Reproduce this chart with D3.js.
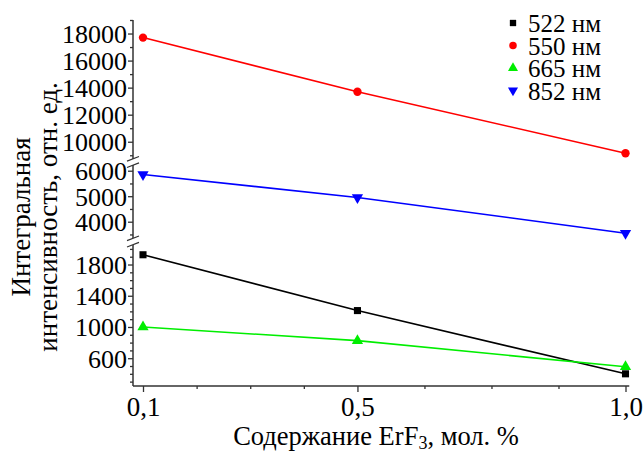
<!DOCTYPE html>
<html><head><meta charset="utf-8">
<script src="https://cdn.jsdelivr.net/npm/d3@7"></script>
<style>body{margin:0;background:#fff} svg text{font-family:"Liberation Serif","Times New Roman",Tinos,"DejaVu Serif",serif !important;fill:#000}</style>
</head><body><svg id="c" width="643" height="452"></svg>
<script>
// ---- data ----
const concentrations = [0.1, 0.5, 1.0];
const xTickLabels = ["0,1", "0,5", "1,0"];
const xMinorTicks = [0.2, 0.3, 0.4, 0.625, 0.75, 0.875];
const seriesNames = ["522 нм", "550 нм", "665 нм", "852 нм"];
const values522 = [1925, 1210, 400];
const values550 = [17700, 13700, 9150];
const values665 = [1000, 825, 490];
const values852 = [5850, 4950, 3550];
const topTicks = [10000, 12000, 14000, 16000, 18000];
const midTicks = [4000, 5000, 6000];
const lowTicks = [600, 1000, 1400, 1800];

// ---- layout ----
const svg = d3.select("#c");
const FONT = "'Liberation Serif', 'Times New Roman', Tinos, 'DejaVu Serif', serif";
const axisX = 133, axisY = 386;
const x = d3.scaleLinear().domain([0.1, 1.0]).range([143, 625.5]);

const segTop = {y: d3.scaleLinear().domain([8724, 19000]).range([159, 20]), ticks: topTicks, minor: d3.range(9000, 19001, 1000)};
const segMid = {y: d3.scaleLinear().domain([3361, 6224]).range([238, 165]), ticks: midTicks, minor: d3.range(3500, 6001, 500)};
const segLow = {y: d3.scaleLinear().domain([244, 2050]).range([386, 245]), ticks: lowTicks, minor: d3.range(300, 2001, 100)};
const segments = [segTop, segMid, segLow];

const axisColor = "#333";

// y axis segments
segments.forEach(s => {
  const [y0, y1] = s.y.range();
  svg.append("line").attr("x1", axisX).attr("x2", axisX).attr("y1", y0).attr("y2", y1)
    .attr("stroke", axisColor).attr("stroke-width", 1.5);
  const g = svg.append("g").attr("transform", `translate(${axisX},0)`);
  const minorAxis = d3.axisLeft(s.y).tickValues(s.minor.filter(v => !s.ticks.includes(v))).tickSize(3).tickFormat("");
  g.call(minorAxis);
  const majorAxis = d3.axisLeft(s.y).tickValues(s.ticks).tickSize(5).tickPadding(1).tickFormat(d3.format("d"));
  const g2 = svg.append("g").attr("transform", `translate(${axisX},0)`).call(majorAxis);
  [g, g2].forEach(gg => {
    gg.attr("font-family", FONT);
    gg.select(".domain").remove();
    gg.selectAll(".tick line").attr("stroke", axisColor).attr("stroke-width", 1.3);
  });
  g2.selectAll(".tick text").attr("font-size", 26).attr("fill", "#000").attr("dy", "0.34em");
});

// break marks
[162, 241.5].forEach(cy => {
  [-3.2, 3.2].forEach(off => {
    svg.append("line").attr("x1", axisX - 6).attr("x2", axisX + 6)
      .attr("y1", cy + off + 2.3).attr("y2", cy + off - 2.3)
      .attr("stroke", axisColor).attr("stroke-width", 1.2);
  });
});

// x axis
svg.append("line").attr("x1", axisX).attr("x2", x(1.007)).attr("y1", axisY).attr("y2", axisY)
  .attr("stroke", axisColor).attr("stroke-width", 1.5);
const gxMinor = svg.append("g").attr("transform", `translate(0,${axisY})`)
  .call(d3.axisBottom(x).tickValues(xMinorTicks).tickSize(3).tickFormat(""));
const gx = svg.append("g").attr("transform", `translate(0,${axisY})`)
  .call(d3.axisBottom(x).tickValues(concentrations).tickSize(6).tickPadding(5).tickFormat((d, i) => xTickLabels[i]));
[gxMinor, gx].forEach(gg => {
  gg.attr("font-family", FONT);
  gg.select(".domain").remove();
  gg.selectAll(".tick line").attr("stroke", axisColor).attr("stroke-width", 1.3);
});
gx.selectAll(".tick text").attr("font-size", 27).attr("fill", "#000").attr("dy", "0.72em");

// axis titles
const xt = svg.append("text").attr("x", 376).attr("y", 445).attr("text-anchor", "middle")
  .attr("font-family", FONT).attr("font-size", 26.5);
xt.append("tspan").text("Содержание ErF");
xt.append("tspan").attr("font-size", 18).attr("dy", 4).text("3");
xt.append("tspan").attr("dy", -4).text(", мол. %");

svg.append("text").attr("transform", "translate(30,217) rotate(-90)").attr("text-anchor", "middle")
  .attr("font-family", FONT).attr("font-size", 27).text("Интегральная");
svg.append("text").attr("transform", "translate(57,217) rotate(-90)").attr("text-anchor", "middle")
  .attr("font-family", FONT).attr("font-size", 27).text("интенсивность, отн. ед.");

// series
const series = [
  {name: seriesNames[0], values: values522, seg: segLow, color: "#000000", sym: d3.symbolSquare, size: 50, rot: 0},
  {name: seriesNames[1], values: values550, seg: segTop, color: "#ff0000", sym: d3.symbolCircle, size: 55, rot: 0},
  {name: seriesNames[2], values: values665, seg: segLow, color: "#00ee00", sym: d3.symbolTriangle, size: 55, rot: 0},
  {name: seriesNames[3], values: values852, seg: segMid, color: "#0000ff", sym: d3.symbolTriangle, size: 55, rot: 180}
];

series.forEach(s => {
  const line = d3.line().x((d, i) => x(concentrations[i])).y(d => s.seg.y(d));
  svg.append("path").datum(s.values).attr("d", line).attr("fill", "none")
    .attr("stroke", s.color).attr("stroke-width", 1.6);
  svg.selectAll(null).data(s.values).enter().append("path")
    .attr("d", d3.symbol().type(s.sym).size(s.size))
    .attr("transform", (d, i) => `translate(${x(concentrations[i])},${s.seg.y(d)}) rotate(${s.rot})`)
    .attr("fill", s.color);
});

// legend
const legend = svg.append("g").attr("font-family", FONT);
series.forEach((s, i) => {
  const cy = 23 + i * 22.5;
  legend.append("path").attr("d", d3.symbol().type(s.sym).size(s.size * 0.8))
    .attr("transform", `translate(513,${cy}) rotate(${s.rot})`).attr("fill", s.color);
  legend.append("text").attr("x", 528).attr("y", cy).attr("dy", "0.36em").attr("font-size", 25).text(s.name);
});
</script>
</body></html>
